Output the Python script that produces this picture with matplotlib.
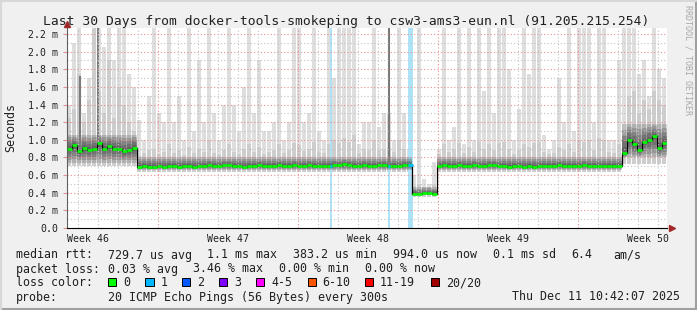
import numpy as np
import matplotlib
matplotlib.use("Agg")
import matplotlib.pyplot as plt
from matplotlib.patches import Rectangle
from matplotlib.lines import Line2D
from datetime import datetime, timedelta

plt.rcParams["font.family"] = "DejaVu Sans Mono"

# graph end is "now", 30 days back; data in 6 hour bins (values in ms)
t_end = datetime(2025, 12, 11, 10, 42, 7)
t0 = t_end - timedelta(days=30)
bin_hours = 6

median_ms = [
    0.90, 0.94, 0.87, 0.91, 0.89, 0.90, 0.96, 0.90, 0.93, 0.90, 0.90, 0.87, 0.88, 0.91,
    0.69, 0.70, 0.69, 0.69, 0.70, 0.69, 0.70, 0.70, 0.69, 0.70,
    0.70, 0.69, 0.70, 0.70, 0.71, 0.70, 0.70, 0.71, 0.71, 0.70,
    0.70, 0.69, 0.70, 0.70, 0.71, 0.70, 0.70, 0.70, 0.71, 0.70,
    0.70, 0.71, 0.70, 0.70, 0.71, 0.70, 0.70, 0.70, 0.70, 0.71,
    0.71, 0.72, 0.71, 0.70, 0.70, 0.71, 0.70, 0.70, 0.71, 0.71,
    0.70, 0.70, 0.70, 0.71, 0.71,
    0.39, 0.38, 0.40, 0.40, 0.39,
    0.70, 0.71, 0.70, 0.70, 0.71, 0.70, 0.70, 0.71, 0.70, 0.70,
    0.71, 0.71, 0.70, 0.70, 0.69, 0.70, 0.70, 0.69, 0.70, 0.69,
    0.70, 0.70, 0.70, 0.70, 0.71, 0.70, 0.70, 0.70, 0.70, 0.71,
    0.70, 0.70, 0.70, 0.70, 0.70, 0.70, 0.70,
    0.85, 1.00, 0.95, 0.88, 0.97, 1.00, 1.04, 0.91, 0.96,
]

p95_ms = [
    1.25, 1.35, 1.75, 1.20, 1.45, 2.30, 1.55, 1.30, 1.90, 1.25, 1.60, 1.40, 1.20, 1.10,
    0.82, 0.85, 0.88, 0.90, 0.84, 0.86, 0.95, 0.85, 0.88, 0.83,
    0.92, 0.85, 0.90, 0.86, 1.00, 0.85, 0.83, 0.88, 0.95, 0.86,
    0.84, 0.90, 0.95, 0.86, 0.92, 0.84, 0.86, 0.88, 0.95, 0.85,
    0.88, 0.96, 0.94, 0.87, 0.90, 0.98, 0.86, 0.85, 0.95, 1.00,
    0.96, 1.02, 0.98, 1.05, 0.85, 0.90, 0.88, 1.00, 0.88, 0.90,
    0.92, 0.86, 1.00, 0.90, 0.80,
    0.48, 0.50, 0.47, 0.46, 0.50,
    0.84, 0.95, 0.86, 0.90, 0.96, 0.85, 0.92, 0.86, 0.98, 0.90,
    0.95, 0.88, 0.96, 0.98, 0.90, 0.84, 0.88, 0.95, 0.92, 0.96,
    0.98, 0.86, 0.84, 0.85, 0.92, 0.88, 0.95, 0.86, 1.00, 0.98,
    1.00, 0.88, 1.02, 1.00, 0.86, 0.85, 0.95,
    1.05, 1.50, 1.55, 1.30, 1.45, 1.35, 1.55, 1.45, 1.40,
]

max_ms = [
    1.40, 2.10, 2.30, 1.30, 1.70, 2.30, 2.30, 2.05, 2.30, 1.90, 2.30, 2.30, 1.75, 1.60,
    1.22, 1.00, 1.50, 2.30, 1.30, 1.20, 2.30, 1.20, 1.50, 1.00,
    2.30, 1.10, 1.90, 1.20, 2.30, 1.30, 1.00, 1.40, 2.30, 1.40,
    1.10, 1.60, 2.30, 1.30, 1.90, 1.10, 1.10, 1.20, 2.30, 1.00,
    1.20, 2.30, 2.30, 1.20, 1.30, 2.30, 1.10, 1.00, 2.30, 1.70,
    2.30, 2.30, 2.30, 2.30, 0.95, 1.20, 1.20, 2.30, 1.15, 1.30,
    1.30, 1.00, 2.30, 1.30, 0.90,
    0.60, 2.30, 0.55, 0.50, 0.75,
    0.90, 2.30, 1.00, 1.15, 2.30, 0.95, 2.30, 1.00, 2.30, 1.55,
    2.30, 1.30, 2.30, 2.30, 1.80, 1.00, 1.35, 2.30, 1.75, 2.30,
    2.30, 1.05, 0.90, 1.00, 1.70, 1.20, 2.30, 1.10, 2.30, 2.30,
    2.30, 1.20, 2.30, 2.30, 1.00, 1.00, 1.90,
    2.30, 2.30, 2.30, 1.75, 1.90, 1.50, 2.30, 1.80, 1.70,
]

# smoke extent per regime (first bin of each regime)
seg_start = [0, 14, 69, 74, 111]
smoke_floor = [0.70, 0.63, 0.355, 0.63, 0.72]
dense_lo = [0.74, 0.66, 0.37, 0.66, 0.80]
dense_hi = [1.06, 0.80, 0.46, 0.80, 1.18]

# packet loss events (days from start, length in days)
loss_start_days = [13.17, 16.07, 17.07]
loss_len_days = [0.10, 0.10, 0.25]

dark_spike_days = [0.67, 1.57, 16.12]
dark_spike_top = [1.72, 2.30, 2.30]

week_labels = ["Week 46", "Week 47", "Week 48", "Week 49", "Week 50"]
ytick_vals = [0.0, 0.2, 0.4, 0.6, 0.8, 1.0, 1.2, 1.4, 1.6, 1.8, 2.0, 2.2]

loss_names = ["0", "1", "2", "3", "4-5", "6-10", "11-19", "20/20"]
loss_colors = ["#00ff00", "#00b8ff", "#0059ff", "#7e00ff",
               "#ff00ff", "#ff5500", "#ff0000", "#a10000"]


def days(dt):
    return (dt - t0).total_seconds() / 86400.0


n = len(median_ms)
w = bin_hours / 24.0
edges = np.arange(n + 1) * w
lefts = edges[:-1]
med = np.array(median_ms)
seg_len = np.diff(seg_start + [n])
floor = np.repeat(smoke_floor, seg_len)
dlo = np.repeat(dense_lo, seg_len)
dhi = np.repeat(dense_hi, seg_len)

W, H = 697, 310
fig = plt.figure(figsize=(W / 100, H / 100), dpi=100)
fig.patch.set_facecolor("#f0f0f0")

px_left, px_top, px_right, px_bottom = 66.7, 28, 666.7, 228
ax = fig.add_axes([px_left / W, 1 - px_bottom / H,
                   (px_right - px_left) / W, (px_bottom - px_top) / H])
ax.set_facecolor("white")
ymax = 2.2676
ax.set_xlim(0, 30)
ax.set_ylim(0, ymax)

# light spikes (slowest pings) and mid-level smoke
ax.bar(lefts + w / 2, np.array(max_ms) - floor, width=w * 0.8, bottom=floor,
       color="#dedede", lw=0, zorder=1)
ax.bar(lefts + w * 0.45, np.array(p95_ms) - floor, width=w * 0.8, bottom=floor,
       color="#cdcdcd", lw=0, zorder=1.1)

# loss background
for s, l in zip(loss_start_days, loss_len_days):
    ax.axvspan(s, s + l, color="#ade3f7", lw=0, zorder=1.2)

# dense smoke around the median
ext = lambda a: np.append(a, a[-1])
for k in (1.0, 0.8, 0.6, 0.4, 0.2):
    ax.fill_between(edges, ext(med - k * (med - dlo)), ext(med + k * (dhi - med)),
                    step="post", color="#202020", alpha=0.17, lw=0, zorder=1.5)

for d, top in zip(dark_spike_days, dark_spike_top):
    i = int(d / w)
    ax.vlines(d, med[i], top, color="#7a7a7a", lw=1.5, zorder=1.6)

# grid (drawn over the smoke like rrdtool does)
for v in np.arange(0.1, ymax, 0.1):
    major = abs(v / 0.2 - round(v / 0.2)) < 1e-6
    ax.axhline(v, color="#e89090" if major else "#c4c4c4",
               ls=(0, (1, 2)), lw=0.8, zorder=2)
first_midnight = datetime(2025, 11, 12)
for k in range(30):
    dt = first_midnight + timedelta(days=k)
    x = days(dt)
    if x >= 30:
        break
    sunday = dt.weekday() == 6
    ax.axvline(x, color="#e89090" if sunday else "#c4c4c4",
               ls=(0, (1, 2)), lw=0.8, zorder=2)

# median line, coloured by loss
ax.step(edges, ext(med), where="post", color="black", lw=0.9, zorder=3)
ax.hlines(med, lefts, lefts + w, color="#00ff00", lw=1.9, zorder=3.1)
for s, l in zip(loss_start_days, loss_len_days):
    i = int(s / w)
    ax.hlines(med[i], s, s + l, color="#00b8ff", lw=1.9, zorder=3.2)

# axes
for sp in ("top", "right"):
    ax.spines[sp].set_visible(False)
ax.spines["left"].set_color("#606060")
ax.spines["bottom"].set_color("black")
ax.spines["left"].set_linewidth(0.8)
ax.spines["bottom"].set_linewidth(0.8)
ax.plot([0], [1.02], marker="^", color="#a02828", ms=4.5, clip_on=False,
        transform=ax.transAxes, zorder=5)
ax.plot([1.008], [0], marker=">", color="#a02828", ms=4.5, clip_on=False,
        transform=ax.transAxes, zorder=5)

ax.set_yticks(ytick_vals)
ax.set_yticklabels(["0.0"] + [f"{v:.1f} m" for v in ytick_vals[1:]])
ax.tick_params(axis="y", length=3, width=0.8, color="#e89090", pad=3,
               labelsize=7.1, labelcolor="#202020")

week_mid = [days(datetime(2025, 11, 12, 12) + timedelta(days=7 * k))
            for k in range(len(week_labels))]
ax.set_xticks(week_mid)
ax.set_xticklabels(week_labels)
ax.tick_params(axis="x", length=0, pad=4, labelsize=7.1, labelcolor="#202020")

# texts
def ftext(x, y, s, **kw):
    fig.text(x / W, 1 - y / H, s, **kw)

ftext(346.5, 24.5, "Last 30 Days from docker-tools-smokeping to csw3-ams3-eun.nl (91.205.215.254)",
      ha="center", va="baseline", size=9.4, color="#202020")
ftext(10.5, 127.5, "Seconds", rotation=90, ha="center", va="center",
      size=8.4, color="#202020")
ftext(688, 60, "RRDTOOL / TOBI OETIKER", rotation=270, ha="center", va="center",
      size=6, color="#a8a8a8")

lg = dict(size=8.4, va="baseline", color="#202020")
row1 = [(16, "median rtt:"), (107.6, "729.7 us avg"), (206.7, "1.1 ms max"),
        (293.3, "383.2 us min"), (393.3, "994.0 us now"), (493.3, "0.1 ms sd"),
        (571.7, "6.4"), (613.3, "am/s")]
row2 = [(16, "packet loss:"), (107.6, "0.03 % avg"), (193.3, "3.46 % max"),
        (279.3, "0.00 % min"), (365, "0.00 % now")]
for x, s in row1:
    ftext(x, 258.5, s, **lg)
for x, s in row2:
    ftext(x, 272.5, s, **lg)
ftext(16, 286.5, "loss color:", **lg)
box_x = [108, 145.3, 182, 219, 256, 307.6, 365, 430.7]
for bx, name, c in zip(box_x, loss_names, loss_colors):
    fig.add_artist(Rectangle((bx / W, 1 - 286 / H), 8.4 / W, 8 / H,
                             facecolor=c, edgecolor="black", lw=0.7,
                             transform=fig.transFigure))
    ftext(bx + 15, 286.5, name, **lg)
ftext(16, 300.5, "probe:", **lg)
ftext(107.6, 300.5, "20 ICMP Echo Pings (56 Bytes) every 300s", **lg)
ftext(680, 300.5, t_end.strftime("%a %b %d %H:%M:%S %Y"), ha="right", **lg)

# outer frame
fig.add_artist(Line2D([0, 1], [0.002, 0.002], color="#a0a0a0", lw=1.5,
                      transform=fig.transFigure))
fig.add_artist(Line2D([0.998, 0.998], [0, 1], color="#a0a0a0", lw=1.5,
                      transform=fig.transFigure))
fig.add_artist(Line2D([0, 1], [0.998, 0.998], color="#d8d8d8", lw=1.5,
                      transform=fig.transFigure))
fig.add_artist(Line2D([0.002, 0.002], [0, 1], color="#d8d8d8", lw=1.5,
                      transform=fig.transFigure))

fig.savefig("out.png", dpi=100, facecolor=fig.get_facecolor())
